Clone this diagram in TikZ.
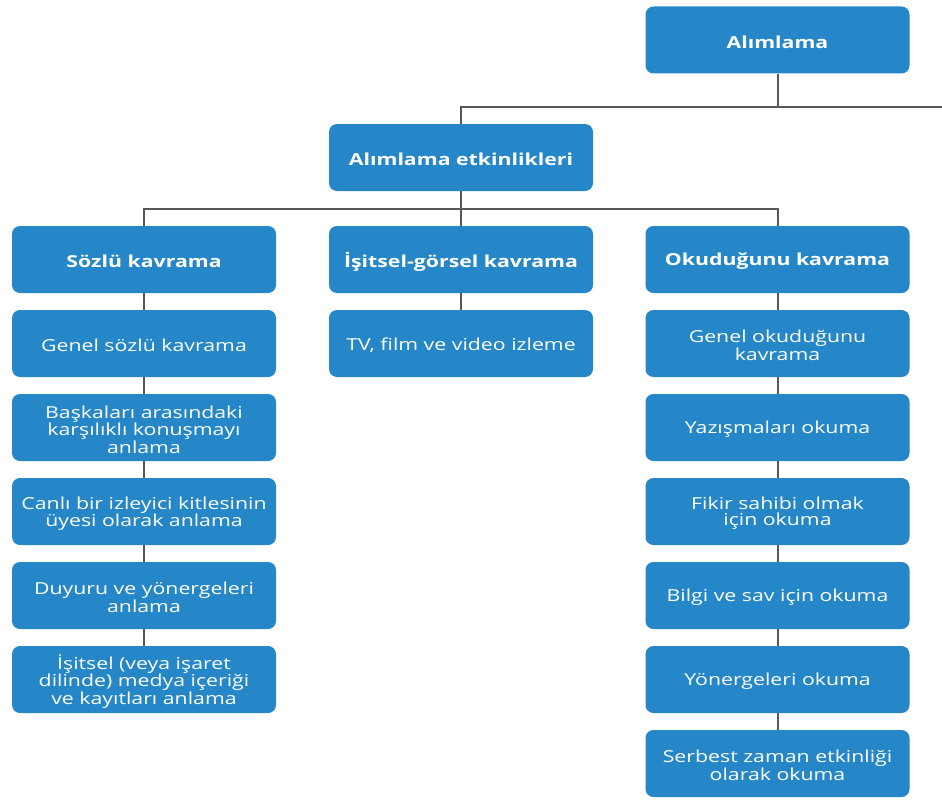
\documentclass[tikz,border=0pt]{standalone}
\usepackage{fontspec}
\setmainfont{Open Sans}[FakeStretch=1.29]
\definecolor{boxblue}{RGB}{37,135,200}
\definecolor{linegray}{RGB}{88,88,88}
% a rounded box with its caption set slightly below the geometric centre
\newcommand\orgbox[4]{%
  \node[panel] (#2) at #3 {};
  \node[#1] (#2-t) at ([yshift=-2pt]#2.center) {#4};}
\begin{document}
\begin{tikzpicture}[x=1pt, y=-1pt,
  panel/.style={rectangle, rounded corners=8pt, fill=boxblue,
    minimum width=264pt, minimum height=67pt, inner sep=0pt},
  plain/.style={text=white, align=center, inner sep=0pt,
    font=\fontsize{16.5}{16.4}\selectfont},
  head/.style={plain, font=\fontsize{16.5}{16.4}\selectfont\bfseries},
  link/.style={draw=linegray, line width=2pt}]
\useasboundingbox (0,0) rectangle (942,800);

% top levels
\orgbox{head}{alim}{(777.5,40)}{Alımlama}
\orgbox{head}{etk}{(461,157.5)}{Alımlama etkinlikleri}

% three branches
\orgbox{head}{sozlu}{(144,259.5)}{Sözlü kavrama}
\orgbox{head}{isg}{(461,259.5)}{İşitsel-görsel kavrama}
\orgbox{head}{okud}{(777.5,259.5)}{Okuduğunu kavrama}

% oral comprehension
\orgbox{plain}{s1}{(144,343.5)}{Genel sözlü kavrama}
\orgbox{plain}{s2}{(144,427.5)}{Başkaları arasındaki\\karşılıklı konuşmayı\\anlama}
\orgbox{plain}{s3}{(144,511.5)}{Canlı bir izleyici kitlesinin\\üyesi olarak anlama}
\orgbox{plain}{s4}{(144,595.5)}{Duyuru ve yönergeleri\\anlama}
\orgbox{plain}{s5}{(144,679.5)}{İşitsel (veya işaret\\dilinde) medya içeriği\\ve kayıtları anlama}

% audio-visual comprehension
\orgbox{plain}{g1}{(461,343.5)}{TV, film ve video izleme}

% reading comprehension
\orgbox{plain}{o1}{(777.5,343.5)}{Genel okuduğunu\\kavrama}
\orgbox{plain}{o2}{(777.5,427.5)}{Yazışmaları okuma}
\orgbox{plain}{o3}{(777.5,511.5)}{Fikir sahibi olmak\\için okuma}
\orgbox{plain}{o4}{(777.5,595.5)}{Bilgi ve sav için okuma}
\orgbox{plain}{o5}{(777.5,679.5)}{Yönergeleri okuma}
\orgbox{plain}{o6}{(777.5,763.5)}{Serbest zaman etkinliği\\olarak okuma}

% connectors
\coordinate (topbus) at (942,107);
\coordinate (midbus) at (0,209);
\draw[link] (alim.south) -- (alim.south |- topbus);
\draw[link] (topbus) -| (etk.north);
\draw[link] (etk.south) -- (isg.north);
\draw[link] (sozlu.north) -- (sozlu.north |- midbus) -| (okud.north);
\draw[link] (sozlu.south) -- (s1.north);
\draw[link] (s1.south) -- (s2.north);
\draw[link] (s2.south) -- (s3.north);
\draw[link] (s3.south) -- (s4.north);
\draw[link] (s4.south) -- (s5.north);
\draw[link] (isg.south) -- (g1.north);
\draw[link] (okud.south) -- (o1.north);
\draw[link] (o1.south) -- (o2.north);
\draw[link] (o2.south) -- (o3.north);
\draw[link] (o3.south) -- (o4.north);
\draw[link] (o4.south) -- (o5.north);
\draw[link] (o5.south) -- (o6.north);
\end{tikzpicture}
\end{document}
